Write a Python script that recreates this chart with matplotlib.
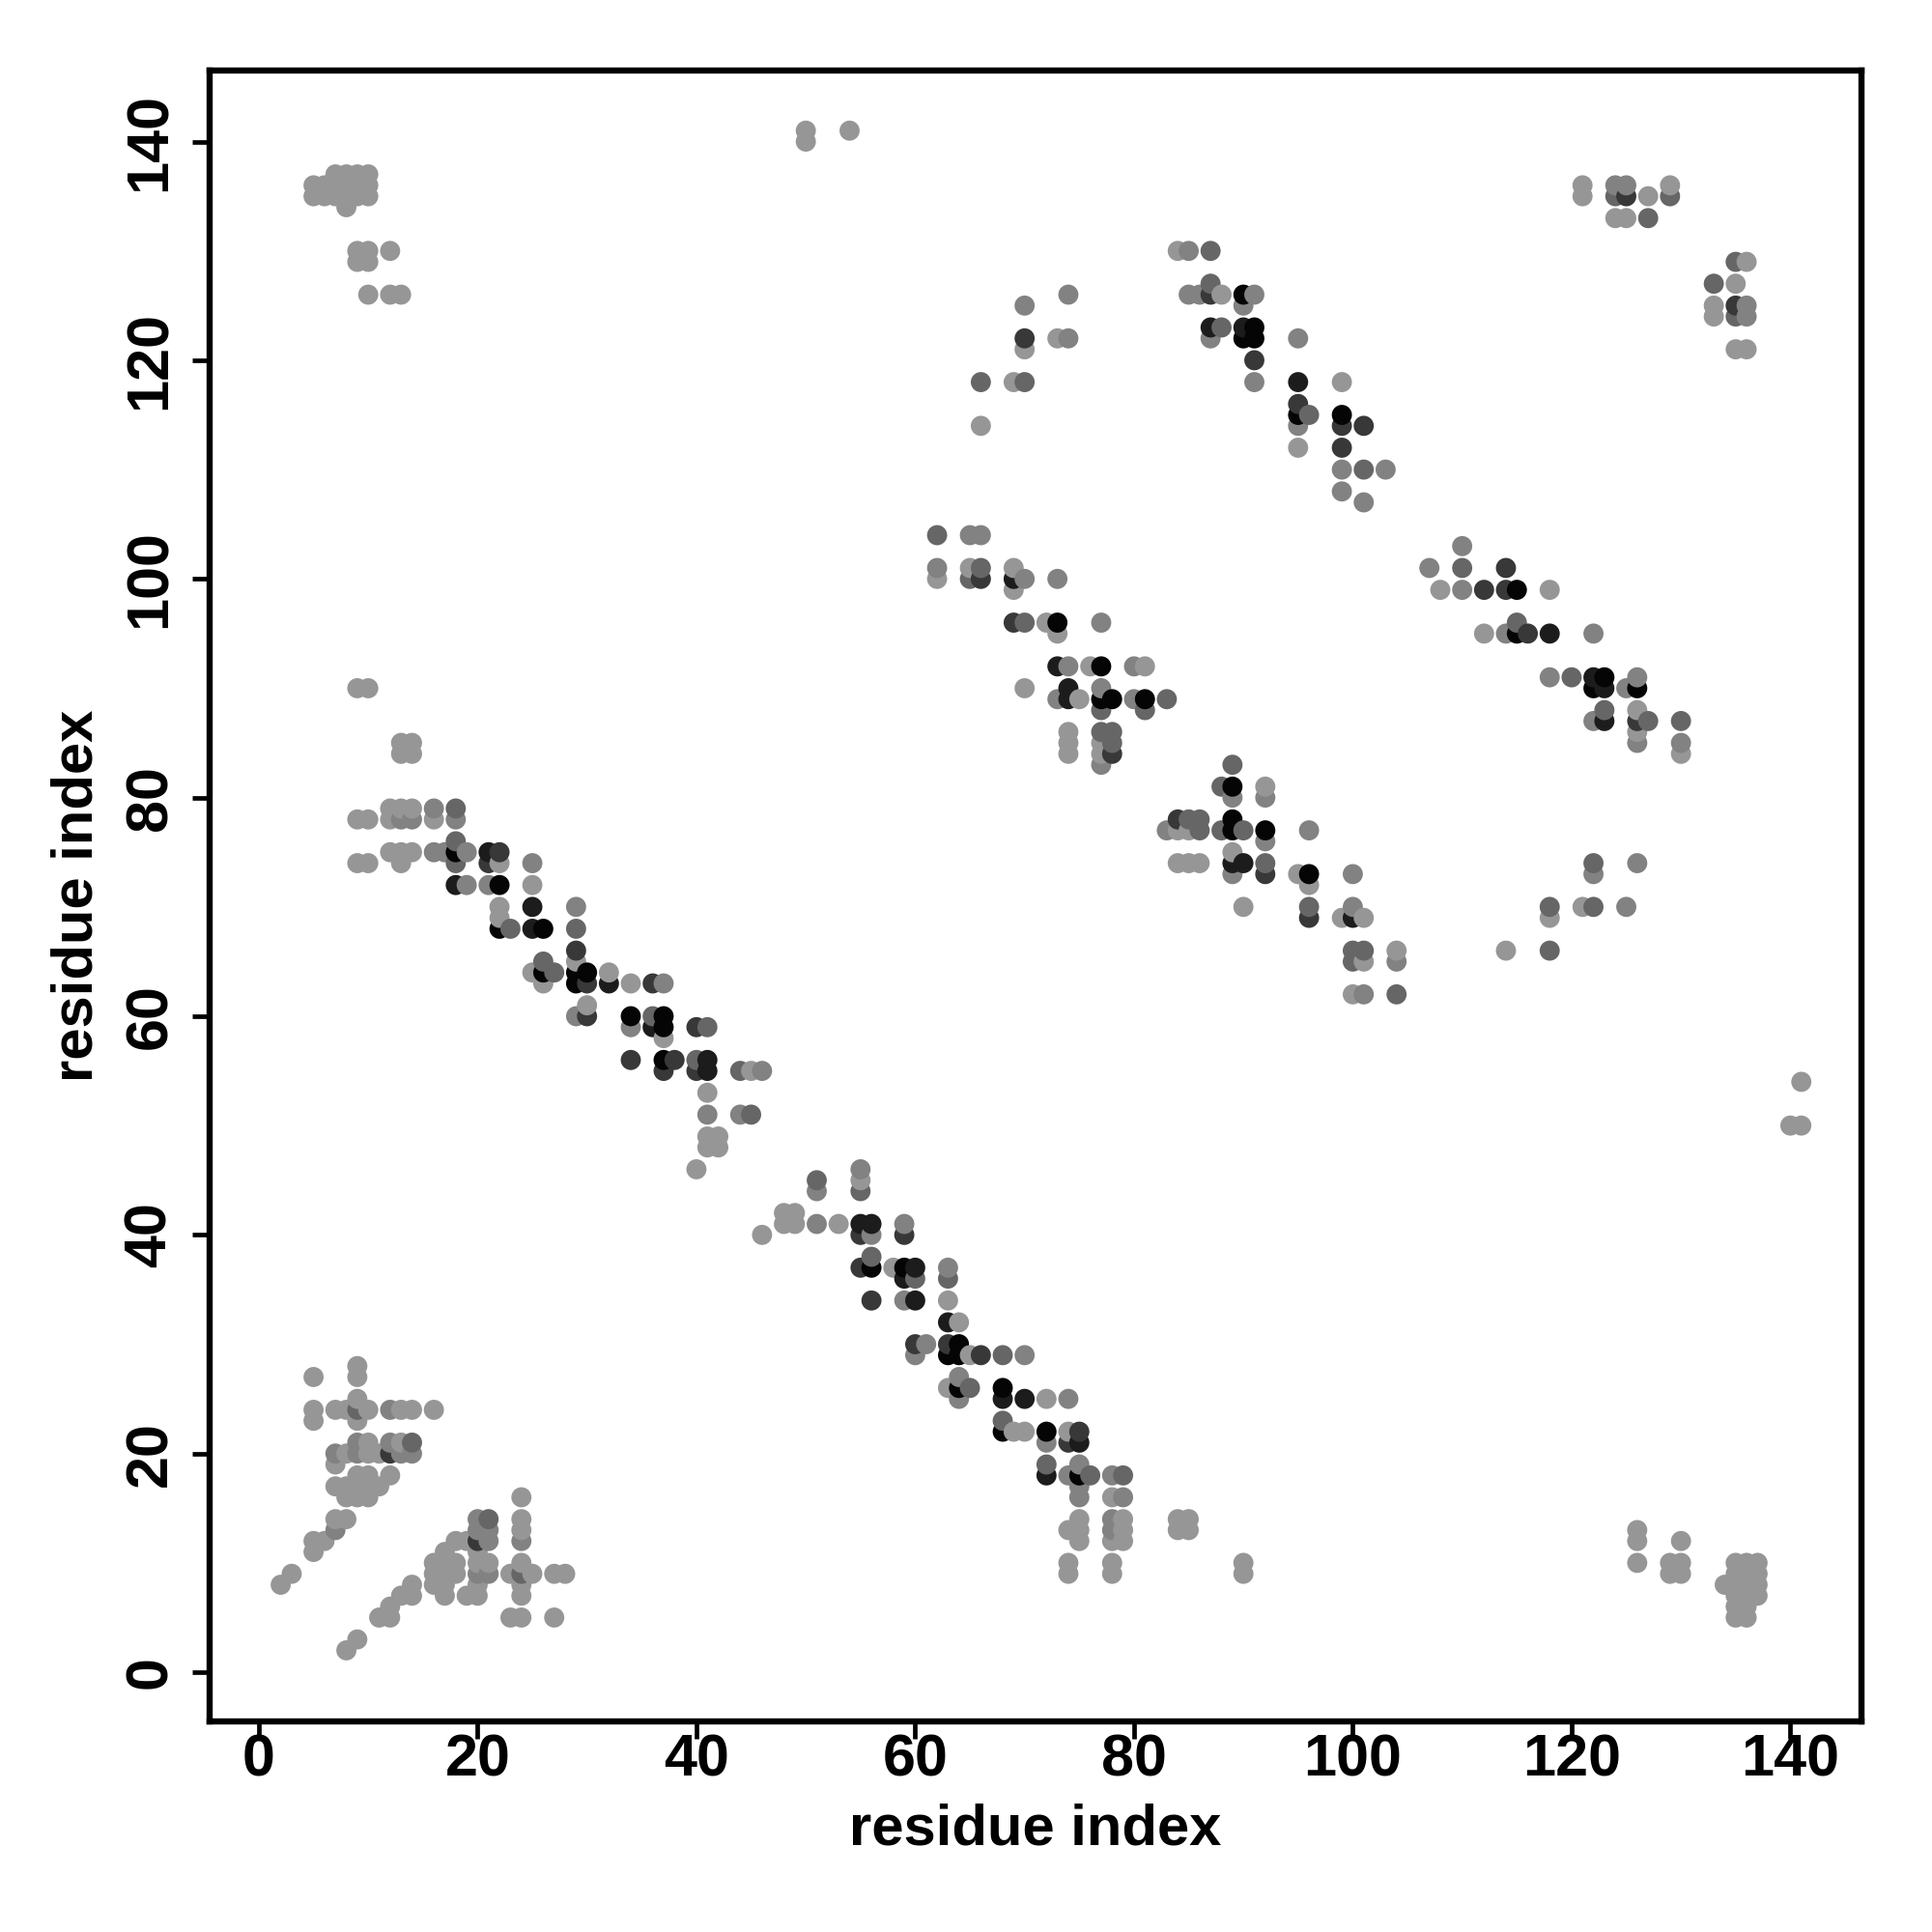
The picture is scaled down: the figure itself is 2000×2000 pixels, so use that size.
import numpy as np
import matplotlib
matplotlib.use("Agg")
import matplotlib.pyplot as plt

# contacts (residue i, residue j), grouped by shade of the point
shade_a = [
 (9,28),(5,27),(9,27),(9,25),(5,24),(7,24),(8,24),(10,24),(13,24),(14,24),(16,24),(5,23),(9,23),(10,21),(13,21),
 (8,20),(10,20),(11,20),(7,19),(9,18),(10,18),(12,18),(7,17),(8,17),(9,17),(10,17),(11,17),(8,16),(9,16),(10,16),
 (7,14),(8,14),(5,12),(6,12),(5,11),(3,9),(2,8),
 (18,12),(19,12),(17,11),(20,11),(16,10),(17,10),(18,10),(20,10),(21,10),(16,9),(17,9),(18,9),(16,8),(17,8),(20,8),(17,7),(19,7),(20,7),
 (14,8),(13,7),(14,7),(12,6),(11,5),(12,5),(9,3),(8,2),
 (24,16),(24,14),(24,13),(24,10),(24,8),(24,7),(24,5),(23,9),(25,9),(27,9),(28,9),(23,5),(27,5),
 (9,90),(10,90),(13,85),(14,85),(13,84),(14,84),(12,79),(13,79),(14,79),(9,78),(10,78),(12,78),(16,78),
 (12,75),(13,75),(14,75),(9,74),(10,74),(13,74),(22,74),(25,72),(22,70),(22,69),(29,65),(25,64),(32,64),(26,63),(34,63),
 (30,61),(37,58),(41,53),(45,55),(41,49),(42,49),(41,48),(42,48),(40,46),(55,45),
 (46,40),(48,42),(49,42),(48,41),(49,41),(53,41),(58,37),(63,34),(64,32),(65,29),(63,26),(72,25),(69,22),(70,22),(74,22),
 (75,14),(79,14),(74,13),(75,13),(79,13),(75,12),(78,12),(79,12),(78,16),(74,10),(74,9),(78,10),(78,9),(84,14),(85,14),(84,13),(85,13),(90,10),(90,9),
 (62,100),(65,101),(69,101),(69,99),(72,96),(73,95),(76,92),(81,92),(70,90),(75,89),(74,86),(74,85),(77,85),(74,84),(77,84),
 (92,81),(84,77),(85,77),(89,75),(84,74),(85,74),(86,74),(95,73),(96,72),(90,70),(99,69),(101,69),(104,66),(101,65),(100,62),
 (114,66),(118,69),(121,70),(84,130),(88,126),(99,118),(95,112),(108,99),(118,99),(112,95),(126,88),(126,86),(130,84),
 (121,136),(121,135),(127,135),(129,136),(124,133),(125,133),(136,129),(135,127),(133,125),(133,124),(135,121),(136,121),
 (70,121),(69,118),(66,114),(73,122),(50,141),(50,140),(54,141),(141,54),(140,50),(141,50),
 (7,137),(8,137),(9,137),(10,137),(5,136),(6,136),(7,136),(8,136),(9,136),(10,136),(5,135),(6,135),(7,135),(8,135),(9,135),(10,135),(8,134),
 (9,130),(10,130),(12,130),(9,129),(10,129),(10,126),(12,126),(13,126),
 (126,13),(126,12),(126,10),(130,12),(129,10),(130,10),(129,9),(130,9),
 (135,10),(136,10),(137,10),(135,9),(136,9),(137,9),(134,8),(135,8),(136,8),(137,8),(135,7),(136,7),(137,7),(135,6),(136,6),(135,5),(136,5),
]
shade_b = [
 (12,24),(9,21),(12,21),(7,20),(9,20),(13,20),(14,20),(7,13),(20,14),(20,13),(21,13),(21,12),(21,9),(20,9),(24,12),
 (16,79),(13,78),(14,78),(18,78),(16,75),(17,75),(19,75),(19,72),(21,72),(25,74),(29,70),(37,63),(29,60),(34,59),(46,55),(41,51),(44,51),
 (55,46),(51,44),(51,41),(59,41),(56,40),(63,37),(59,34),(61,30),(60,29),(70,29),(64,27),(64,25),(74,25),(72,21),(75,19),(74,18),(78,18),(75,17),(75,16),(79,16),(78,14),(78,13),
 (65,104),(66,104),(62,101),(70,100),(73,100),(77,96),(74,92),(80,92),(77,90),(73,89),(80,89),(77,83),
 (89,80),(92,80),(83,77),(92,76),(89,73),(96,77),(100,73),(100,70),(101,62),(104,65),(122,73),(125,70),(126,74),(74,122),(70,125),(74,126),
 (85,130),(85,126),(86,126),(90,125),(91,126),(87,122),(95,122),(91,118),(95,114),(99,110),(103,110),(99,108),(101,107),
 (110,103),(107,101),(110,99),(114,95),(122,95),(118,91),(125,90),(126,91),(122,87),(126,85),(130,85),
 (124,136),(125,136),(136,125),(136,124),
]
shade_c = [
 (9,24),(14,21),(21,14),(24,9),(18,79),(18,76),(18,74),(23,68),(29,68),(26,65),(27,64),(36,60),(41,59),(40,56),(44,55),(45,51),(51,45),(55,44),
 (56,38),(60,36),(63,36),(68,29),(65,26),(68,23),(72,19),(76,18),(79,18),
 (62,104),(66,101),(65,100),(70,96),(83,89),(77,88),(81,88),(77,86),(78,86),(78,85),
 (89,83),(88,81),(85,78),(86,78),(86,77),(88,77),(90,77),(92,74),(96,70),(100,66),(101,66),(100,65),(104,62),
 (118,70),(118,66),(122,74),(122,70),(87,130),(87,127),(88,123),(96,115),(101,110),
 (110,101),(115,96),(120,91),(123,88),(127,87),(130,87),
 (124,135),(129,135),(127,133),(135,129),(133,127),(135,124),(70,118),(66,118),
]
shade_d = [
 (12,20),(20,12),(22,75),(21,74),(29,66),(30,63),(36,63),(30,60),(40,59),(34,56),(38,56),(37,55),(40,55),(55,40),(59,40),(55,37),(56,34),
 (60,30),(63,30),(66,29),(75,22),(74,21),(66,100),(69,96),(78,84),(84,78),(92,73),(96,69),
 (87,126),(91,120),(95,116),(99,114),(101,114),(99,112),(112,99),(114,101),(114,99),(116,95),(126,87),
 (125,135),(135,125),(70,122),
]
shade_e = [
 (18,72),(21,75),(25,70),(25,68),(32,63),(36,59),(41,56),(41,55),(55,41),(56,41),(59,36),(60,37),(60,34),(63,32),
 (68,25),(70,25),(75,21),(72,18),(69,100),(73,92),(74,90),(74,89),
 (89,74),(90,74),(100,69),(87,123),(90,123),(95,118),(118,95),(122,91),(123,90),(123,87),
]
shade_f = [
 (18,75),(22,72),(22,68),(26,68),(26,64),(29,64),(30,64),(29,63),(34,60),(37,60),(37,59),(37,56),(59,37),(56,37),(63,29),(64,29),(64,30),(64,26),
 (68,26),(68,22),(72,22),(75,18),(73,96),(77,92),(77,89),(78,89),(81,89),(89,81),(89,78),(89,77),(92,77),(96,73),
 (90,126),(91,123),(90,122),(91,122),(95,115),(99,115),(115,99),(115,95),(123,91),(122,90),(126,90),
]
x_ticks = [0, 20, 40, 60, 80, 100, 120, 140]
y_ticks = [0, 20, 40, 60, 80, 100, 120, 140]
x_label = "residue index"
y_label = "residue index"

groups = [(shade_a, 0.59), (shade_b, 0.51), (shade_c, 0.40), (shade_d, 0.22), (shade_e, 0.11), (shade_f, 0.02)]
xs, ys, gs = [], [], []
for pts, g in groups:
    for a, b in pts:
        xs.append(a); ys.append(b); gs.append(g)
xs, ys, gs = np.array(xs), np.array(ys), np.array(gs)
order = np.lexsort((ys, xs))

plt.rcParams['font.family'] = ['Liberation Sans', 'DejaVu Sans']
plt.rcParams['font.weight'] = 'bold'
fig = plt.figure(figsize=(20, 20), dpi=100)
ax = fig.add_axes([217/2000, 1 - 1782/2000, 1710/2000, 1709/2000])
ax.scatter(xs[order], ys[order], s=225, c=[str(v) for v in gs[order]], linewidths=0, zorder=3)
ax.set_xlim(-4.5, 146.5)
ax.set_ylim(-4.5, 146.5)
ax.set_xticks(x_ticks)
ax.set_yticks(y_ticks)
ax.tick_params(axis='both', length=13, width=3.4, labelsize=44)
ax.tick_params(axis='x', pad=-4)
ax.tick_params(axis='y', pad=10)
for t in ax.get_yticklabels():
    t.set_rotation(90)
    t.set_va('center')
for s in ax.spines.values():
    s.set_linewidth(4.6)
ax.set_xlabel(x_label, fontsize=43, fontweight='bold')
ax.set_ylabel(y_label, fontsize=43, fontweight='bold')
ax.xaxis.set_label_coords(0.5, -0.0495)
ax.yaxis.set_label_coords(-0.0641, 0.5)
fig.savefig("out.png", dpi=100, facecolor='white')
